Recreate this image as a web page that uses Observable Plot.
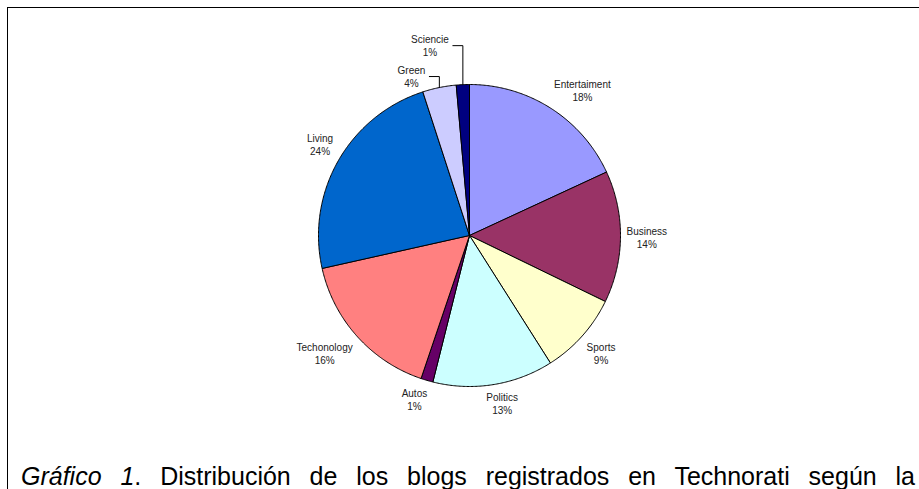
<!DOCTYPE html>
<html><head><meta charset="utf-8">
<script src="https://cdn.jsdelivr.net/npm/d3@7"></script>
<script src="https://cdn.jsdelivr.net/npm/@observablehq/plot@0.6"></script>
<style>
html,body{margin:0;padding:0;background:#fff;width:919px;height:489px;overflow:hidden;position:relative;font-family:"Liberation Sans",Arial,sans-serif}
#chart{position:absolute;left:0;top:0}
#frame{position:absolute;left:7px;top:7px;width:930px;height:500px;border-top:1px solid #000;border-left:1px solid #000;pointer-events:none}
#caption{position:absolute;left:21px;top:461px;width:894px;font-size:25px;line-height:30px;text-align:justify;text-align-last:justify;color:#000;white-space:normal}
</style></head><body>
<div id="chart"></div>
<div id="frame"></div>
<div id="caption"><i>Gráfico 1</i>. Distribución de los blogs registrados en Technorati según la</div>
<script>
// ---- data ----
const categories = ["Entertaiment", "Business", "Sports", "Politics", "Autos", "Techonology", "Living", "Green", "Sciencie"];
const shares     = [18.1, 14.1, 8.8, 12.9, 1.3, 16.3, 23.5, 3.6, 1.4];
const colors     = ["#9999FF", "#993366", "#FFFFCC", "#CCFFFF", "#660066", "#FF8080", "#0066CC", "#CCCCFF", "#000080"];
const leaderLabels = ["Green", "Sciencie"];

// ---- layout ----
const W = 919, H = 450, CX = 469, CY = 235, R = 151;
const total = d3.sum(shares);
const clamp = v => Math.max(-1, Math.min(1, v));
const ctx = document.createElement("canvas").getContext("2d");
ctx.font = '10px "Liberation Sans", Arial, sans-serif';

// slice polygons (data units: radius = 1, angle clockwise from top)
const slicePts = [];
const labels = [];
const leaders = [];
let acc = 0;
categories.forEach((name, i) => {
  const a0 = acc / total * 2 * Math.PI;
  acc += shares[i];
  const a1 = acc / total * 2 * Math.PI;
  const n = Math.max(2, Math.ceil((a1 - a0) / (Math.PI / 360)));
  slicePts.push({name, x: 0, y: 0});
  for (let k = 0; k <= n; k++) {
    const a = a0 + (a1 - a0) * k / n;
    slicePts.push({name, x: Math.sin(a), y: Math.cos(a)});
  }
  slicePts.push({name, x: 0, y: 0});

  const m = (a0 + a1) / 2;
  const pct = Math.round(shares[i] / total * 100) + "%";
  const hw = Math.max(ctx.measureText(name).width, ctx.measureText(pct).width) / 2;
  const hh = 13;
  let px, py;
  const li = leaderLabels.indexOf(name);
  if (li >= 0) {
    const ex = CX + R * Math.sin(m), ey = CY - R * Math.cos(m);
    py = ey - (11 + 28 * li);
    px = ex - 14 - hw;
    [[ex, ey], [ex, py], [ex - 10, py]].forEach(([qx, qy]) =>
      leaders.push({name, x: (qx - CX) / R, y: (CY - qy) / R}));
  } else {
    const ax = CX + (R + 6) * Math.sin(m), ay = CY - (R + 6) * Math.cos(m);
    px = ax + hw * clamp(3 * Math.sin(m));
    py = ay - hh * clamp(3 * Math.cos(m));
  }
  labels.push({name, text: name + "\n" + pct, x: (px - CX) / R, y: (CY - py) / R});
});

const chart = Plot.plot({
  width: W, height: H,
  margin: 0,
  style: {background: "transparent", fontFamily: '"Liberation Sans", Arial, sans-serif'},
  x: {domain: [-CX / R, (W - CX) / R], range: [0, W], axis: null},
  y: {domain: [(CY - H) / R, CY / R], range: [H, 0], axis: null},
  color: {domain: categories, range: colors},
  marks: [
    Plot.line(slicePts, {x: "x", y: "y", z: "name", fill: "name", stroke: "#000", strokeWidth: 1, strokeLinejoin: "round", curve: "linear"}),
    Plot.line(leaders, {x: "x", y: "y", z: "name", stroke: "#000", strokeWidth: 1, fill: "none"}),
    Plot.text(labels, {x: "x", y: "y", text: "text", fontSize: 10, lineHeight: 1.3, fill: "#222", textAnchor: "middle"})
  ]
});
document.getElementById("chart").appendChild(chart);
</script>
</body></html>
